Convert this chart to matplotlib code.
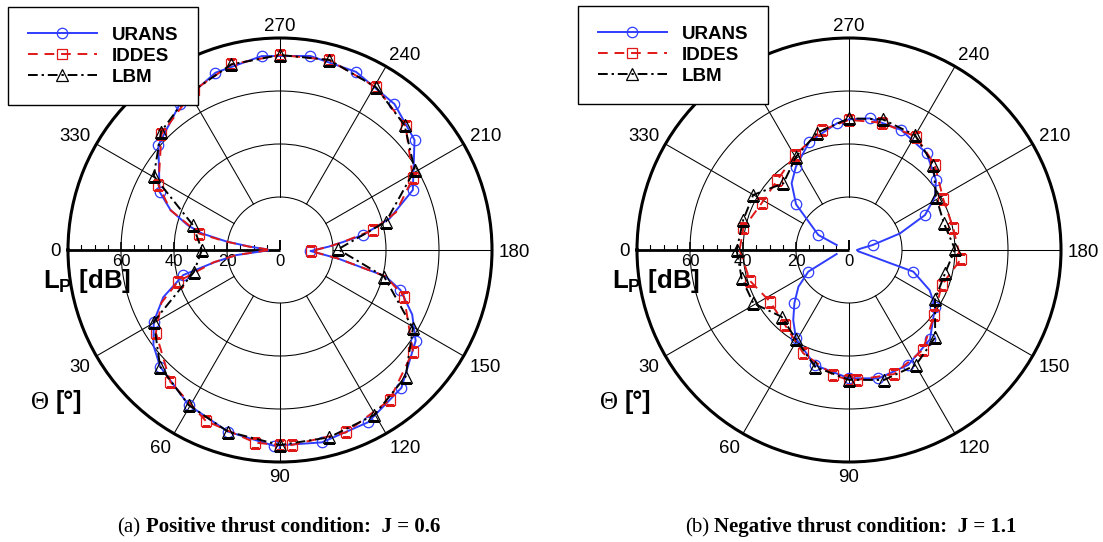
import numpy as np
import matplotlib
matplotlib.use('Agg')
import matplotlib.pyplot as plt
from matplotlib.lines import Line2D

plt.rcParams['font.family'] = ['Liberation Sans', 'DejaVu Sans']
plt.rcParams['mathtext.fontset'] = 'custom'
plt.rcParams['mathtext.rm'] = 'Liberation Sans'
plt.rcParams['mathtext.bf'] = 'Liberation Sans:bold'

# ---- data: directivity angle [deg], L_p [dB], 1 = symbol drawn at that point ----
# (a) positive thrust, J = 0.6
a_urans_theta = [2, 6.6, 10.5, 14.5, 22, 29.6, 37, 44.2, 59.5, 74, 88.2, 102.3, 117.1, 131.4,
                 146.2, 154, 161.6, 166, 171.7, 178, 184, 187, 190.2, 196, 204.3, 219.3, 231.9,
                 246.9, 261.1, 275.4, 290, 304.5, 319.2, 334.2, 340, 345, 348, 351, 353.7, 357]
a_urans_db = [4.5, 16.5, 25.0, 37.7, 47.5, 54.8, 59.8, 63.1, 67.9, 71.3, 73.9, 74.3, 73.0, 69.3,
              61.6, 55.5, 47.9, 41.0, 22.0, 11.5, 18.5, 23.5, 31.8, 43.0, 55.0, 65.6, 70.0,
              73.1, 74.1, 73.5, 71.2, 66.8, 60.6, 50.5, 43.9, 36.0, 30.2, 20.4, 11.4, 5.0]
a_urans_mark = [0, 0, 0, 1, 0, 1, 0, 1, 1, 1, 1, 1, 1, 1,
                1, 0, 1, 0, 0, 1, 0, 0, 1, 0, 1, 1, 1,
                1, 1, 1, 1, 1, 1, 1, 0, 0, 0, 0, 0, 0]

a_iddes_theta = [1, 6.6, 10.5, 17.2, 24, 33.7, 50.2, 66.5, 82.7, 90, 93.5, 109.9, 126.2, 142.6,
                 159.4, 166, 171.7, 178, 184, 187, 192.1, 198, 208.4, 224.6, 239.4, 255.5, 270,
                 284.7, 298.3, 315.7, 331.9, 340, 348.5, 351, 353.7, 357.5]
a_iddes_db = [4.5, 16.5, 25.5, 40.3, 49.0, 56.3, 64.7, 70.3, 73.3, 73.6, 73.7, 73.2, 70.1, 63.1,
              50.0, 41.0, 22.0, 11.7, 18.5, 23.5, 35.9, 46.0, 57.0, 66.6, 71.3, 74.1, 73.6,
              72.4, 68.5, 62.5, 52.0, 44.0, 31.1, 21.0, 12.0, 4.5]
a_iddes_mark = [0, 0, 0, 1, 0, 1, 1, 1, 1, 1, 1, 1, 1, 1,
                1, 0, 0, 1, 0, 0, 1, 0, 1, 1, 1, 1, 1,
                1, 1, 1, 1, 0, 1, 0, 0, 0]

a_lbm_theta = [0, 14.3, 29.6, 44.2, 59.5, 74, 90, 104.7, 119.8, 134.8, 149.5, 165.6, 180.7,
               195, 210.7, 225, 239.4, 255.5, 270, 284.7, 300, 315.2, 329.6, 344, 360]
a_lbm_db = [29.5, 33.5, 54.8, 63.1, 67.9, 71.3, 73.6, 73.1, 71.7, 67.3, 58.2, 40.6, 21.9,
            41.4, 59.1, 66.5, 71.3, 74.1, 73.6, 72.4, 68.3, 63.3, 55.2, 34.2, 29.5]
a_lbm_mark = [1] * 24 + [0]

# (b) negative thrust, J = 1.1
b_urans_theta = [18, 28, 36, 44.3, 51.5, 59, 73.5, 90, 102.9, 117.3, 132.2, 146.6, 153.5,
                 161.4, 162.5, 166, 172, 180, 187, 191.9, 198, 204.7, 211.8, 218.8, 231.2,
                 246.6, 261, 270, 275.5, 290.1, 302.5, 310.7, 319.2, 333.9, 338]
b_urans_db = [4.9, 17.4, 23.6, 28.8, 33.8, 38.9, 45.3, 48.4, 49.7, 48.8, 45.5, 38.9, 34.0,
              25.6, 15.0, 7.0, 3.5, 3.0, 4.5, 9.1, 20.2, 31.6, 38.2, 42.1, 46.8,
              49.4, 50.3, 49.3, 48.0, 43.5, 37.3, 33.2, 26.4, 12.9, 5.0]
b_urans_mark = [0, 1, 0, 1, 0, 1, 1, 1, 1, 1, 1, 1, 0,
                1, 0, 0, 0, 0, 0, 1, 0, 1, 0, 1, 1,
                1, 1, 0, 1, 1, 1, 0, 1, 1, 0]

b_iddes_theta = [0, 17.4, 33.2, 49.5, 66.1, 82.8, 90, 93.4, 110, 126.4, 142.7, 159.3, 175.2,
                 191.7, 208.3, 224.7, 239.4, 255.6, 270, 282.8, 299.6, 315.7, 331.9, 348.4, 360]
b_iddes_db = [41.3, 39.1, 35.6, 37.2, 42.6, 47.5, 49.1, 49.1, 49.8, 46.9, 40.5, 37.4, 42.3,
              40.2, 40.4, 45.6, 49.7, 49.6, 49.1, 46.4, 41.2, 37.8, 37.4, 40.7, 41.3]
b_iddes_mark = [0] + [1] * 23 + [0]

b_lbm_theta = [0, 14.8, 29.1, 44.7, 59.3, 73.8, 90, 105.1, 120.2, 134.6, 150.2, 166.4, 180.4,
               195.7, 211.5, 225.2, 240.1, 255.5, 270, 285.1, 299.6, 314.6, 330.1, 344.2, 360]
b_lbm_db = [42.4, 41.9, 41.3, 35.8, 39.2, 45.9, 49.0, 50.8, 50.2, 46.3, 37.4, 37.3, 40.0,
            37.2, 38.5, 45.2, 50.0, 50.9, 49.7, 45.9, 40.5, 35.3, 41.7, 41.5, 42.4]
b_lbm_mark = [1] * 24 + [0]

labels = ['URANS', 'IDDES', 'LBM']
angle_ticks = list(range(0, 360, 30))
angle_labels = [a for a in angle_ticks if a != 300]   # 300 sits under the legend
r_ticks = [0, 20, 40, 60]
captions = [('(a)', 'Positive thrust condition:  J = 0.6'),
            ('(b)', 'Negative thrust condition:  J = 1.1')]

# ---- styles ----
styles = {
    'URANS': dict(color='#2f3dff', ls='-', marker='o', ms=7.5),
    'IDDES': dict(color='#e01818', ls=(0, (5, 3.5)), marker='s', ms=7),
    'LBM': dict(color='black', ls=(0, (5, 2, 1.2, 2)), marker='^', ms=8),
}
common = dict(lw=1.4, mfc='none', mew=0.9)

W, H = 1103, 542
R_PX = 212
RMAX = 80

fig = plt.figure(figsize=(W / 100, H / 100), dpi=100)


def make_polar(cx, cy):
    ax = fig.add_axes([(cx - R_PX) / W, (H - cy - R_PX) / H, 2 * R_PX / W, 2 * R_PX / H],
                      projection='polar')
    ax.set_theta_zero_location('W')
    ax.set_theta_direction(1)
    ax.set_rlim(0, RMAX)
    ax.set_yticks([20, 40, 60])
    ax.set_yticklabels([])
    ax.tick_params(axis='y', length=0)
    ax.yaxis.grid(True, color='black', lw=0.75)
    ax.xaxis.grid(False)
    ax.set_xticks(np.deg2rad(angle_ticks))
    ax.set_xticklabels([])
    ax.set_xticks(np.deg2rad(np.arange(0, 360, 5)), minor=True)
    ax.tick_params(axis='x', which='major', direction='in', length=6, width=1.8, pad=0)
    ax.tick_params(axis='x', which='minor', direction='in', length=4, width=0.8)
    ax.spines['polar'].set_linewidth(2.2)

    # radial grid lines (start at the 20 dB ring)
    for a in angle_ticks[1:]:
        ax.plot([np.deg2rad(a)] * 2, [20, RMAX], color='black', lw=0.75, zorder=1)

    # radial L_p axis along 0 deg
    ax.plot([0, 0], [0, RMAX], color='black', lw=2, solid_capstyle='butt', zorder=2)
    minor = [r for r in range(5, RMAX, 5) if r % 20]
    ax.plot(np.zeros(len(minor)), minor, ls='none', marker=2, ms=3.5, mew=0.8,
            color='black', zorder=2)
    ax.plot(np.zeros(3), [20, 40, 60], ls='none', marker=2, ms=5.5, mew=1.1,
            color='black', zorder=2)
    ax.plot([0], [0], ls='none', marker=2, ms=7, mew=1.4, color='black', zorder=2,
            clip_on=False)
    for r in r_ticks:
        ax.annotate(str(r), xy=(0, r), xytext=(0, -3), textcoords='offset points',
                    ha='center', va='top', fontsize=12)

    # angle labels outside the ring
    g = 5.0
    for a in angle_labels:
        t = np.deg2rad(a)
        dx, dy = -np.cos(t), -np.sin(t)
        ha = 'left' if dx > 0.3 else ('right' if dx < -0.3 else 'center')
        va = 'baseline' if dy > 0.3 else ('top' if dy < -0.3 else 'center_baseline')
        ax.annotate(str(a), xy=(t, RMAX), xytext=(dx * g, dy * g),
                    textcoords='offset points', ha=ha, va=va, fontsize=13.5,
                    annotation_clip=False)
    return ax


def draw(ax, theta, db, mark, name):
    idx = [i for i, m in enumerate(mark) if m]
    ax.plot(np.deg2rad(theta), db, markevery=idx, label=name, zorder=4,
            **styles[name], **common)


panels = [
    (280, 250, [(a_urans_theta, a_urans_db, a_urans_mark),
                (a_iddes_theta, a_iddes_db, a_iddes_mark),
                (a_lbm_theta, a_lbm_db, a_lbm_mark)]),
    (849, 250, [(b_urans_theta, b_urans_db, b_urans_mark),
                (b_iddes_theta, b_iddes_db, b_iddes_mark),
                (b_lbm_theta, b_lbm_db, b_lbm_mark)]),
]
legend_pos = [(8, 7), (578, 6)]

for k, (cx, cy, series) in enumerate(panels):
    ax = make_polar(cx, cy)
    for name, (th, db, mk) in zip(labels, series):
        draw(ax, th, db, mk, name)

    handles = [Line2D([], [], **styles[n], **common) for n in labels]
    lx, ly = legend_pos[k]
    leg = fig.legend(handles, labels, loc='upper left',
                     bbox_to_anchor=(lx / W, 1 - ly / H), bbox_transform=fig.transFigure,
                     prop=dict(weight='bold', size=13.5), numpoints=1, handlelength=3.7,
                     handletextpad=0.8, labelspacing=0.2, borderpad=1.05, borderaxespad=0,
                     fancybox=False, framealpha=1, edgecolor='black')
    leg.get_frame().set_linewidth(1.0)

    # axis titles
    ox = cx - 280
    fig.text((43 + ox) / W, 1 - 288 / H, r'$\mathbf{L}_{\mathbf{P}}$ [dB]',
             fontsize=18.5, fontweight='bold', va='baseline')
    fig.text((31 + ox) / W, 1 - 409 / H, 'Θ', family='Liberation Serif',
             fontsize=18, va='baseline')
    fig.text((56 + ox) / W, 1 - 409 / H, '[°]', fontsize=18, fontweight='bold',
             va='baseline')

    # caption
    tag, cap = captions[k]
    capx = 117 if k == 0 else 685
    fig.text(capx / W, 1 - 532 / H, tag, family='Liberation Serif', fontsize=15,
             va='baseline')
    fig.text((capx + 29) / W, 1 - 532 / H, cap, family='Liberation Serif',
             fontsize=15, fontweight='bold', va='baseline')

fig.savefig('out.png', dpi=100)
